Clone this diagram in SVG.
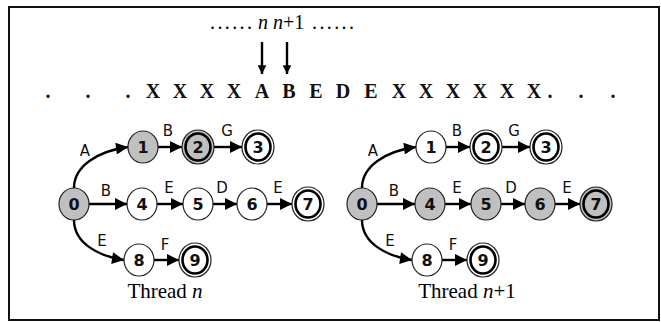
<svg xmlns="http://www.w3.org/2000/svg" width="661" height="322" viewBox="0 0 661 322">
<style>
.frame{fill:none;stroke:#111;stroke-width:2}
.tm{font-family:"Liberation Serif","Times New Roman",serif;fill:#000}
.seq{font-family:"Liberation Serif","Times New Roman",serif;font-weight:bold;font-size:20px;fill:#111}
.nd{stroke:#222;stroke-width:1.2}
.g{fill:#c0c0c0}
.w{fill:#fff}
.ring{fill:none;stroke:#000;stroke-width:2.6}
.num{font-family:"DejaVu Sans",Verdana,sans-serif;font-weight:bold;font-size:16px;text-anchor:middle;fill:#111}
.lbl{font-family:"DejaVu Sans",Verdana,sans-serif;font-size:15px;text-anchor:middle;fill:#111}
.e{fill:none;stroke:#000;stroke-width:2.4;marker-end:url(#ah)}
.pt{fill:none;stroke:#000;stroke-width:2.4;marker-end:url(#ah2)}
</style>
<defs>
<marker id="ah" viewBox="0 0 10 10" refX="10" refY="5" markerWidth="5.4" markerHeight="5" markerUnits="strokeWidth" orient="auto">
<path d="M0,0 L10,5 L0,10 z" fill="#000"/>
</marker>
<marker id="ah2" viewBox="0 0 10 10" refX="10" refY="5" markerWidth="3.6" markerHeight="3.6" markerUnits="strokeWidth" orient="auto">
<path d="M0,0 L10,5 L0,10 z" fill="#000"/>
</marker>
</defs>
<rect class="frame" x="9" y="7" width="650" height="313"/>
<g id="header">
<text class="tm" font-size="20" y="29"><tspan x="210" textLength="42" lengthAdjust="spacing">......</tspan><tspan x="258" font-style="italic">n</tspan><tspan x="273" font-style="italic">n</tspan><tspan>+1</tspan><tspan x="312" textLength="42" lengthAdjust="spacing">......</tspan></text>
<path class="pt" d="M262,42 V74"/>
<path class="pt" d="M287,42 V74"/>
<text class="seq" y="98" text-anchor="middle" x="48 88 128 153 180 207 234 262 289 316 343 371 399 426 453 480 507 534 550 581 613">...XXXXABEDEXXXXXX...</text>
</g>
<g id="connectors">
<path class="e" d="M74,188 C74,166 98,151 128,147"/>
<path class="e" d="M74,220 C74,243 98,256 124,260"/>
<path class="e" d="M89,204 H127"/>
<path class="e" d="M158,147 H182"/>
<path class="e" d="M214,147 H242"/>
<path class="e" d="M157,204 H183"/>
<path class="e" d="M213,204 H237"/>
<path class="e" d="M267,204 H292"/>
<path class="e" d="M154,260 H179"/>
<path class="e" d="M362,188 C362,166 386,151 416,147"/>
<path class="e" d="M362,220 C362,243 386,256 412,260"/>
<path class="e" d="M377,204 H415"/>
<path class="e" d="M446,147 H470"/>
<path class="e" d="M502,147 H530"/>
<path class="e" d="M445,204 H471"/>
<path class="e" d="M501,204 H525"/>
<path class="e" d="M555,204 H580"/>
<path class="e" d="M442,260 H467"/>
<text class="lbl" x="85" y="156">A</text>
<text class="lbl" x="106" y="196">B</text>
<text class="lbl" x="102" y="246">E</text>
<text class="lbl" x="168" y="136">B</text>
<text class="lbl" x="227" y="136">G</text>
<text class="lbl" x="169" y="193">E</text>
<text class="lbl" x="222" y="193">D</text>
<text class="lbl" x="278" y="193">E</text>
<text class="lbl" x="165" y="250">F</text>
<text class="lbl" x="373" y="156">A</text>
<text class="lbl" x="394" y="196">B</text>
<text class="lbl" x="390" y="246">E</text>
<text class="lbl" x="457" y="136">B</text>
<text class="lbl" x="514" y="136">G</text>
<text class="lbl" x="457" y="193">E</text>
<text class="lbl" x="511" y="193">D</text>
<text class="lbl" x="567" y="193">E</text>
<text class="lbl" x="453" y="250">F</text>
</g>
<g id="L0"><ellipse class="nd g" cx="74" cy="204" rx="15" ry="16"/><text class="num" x="74" y="210">0</text></g>
<g id="L1"><ellipse class="nd g" cx="143" cy="147" rx="15" ry="16"/><text class="num" x="143" y="153">1</text></g>
<g id="L2"><ellipse class="nd g" cx="198" cy="147" rx="16" ry="17"/><ellipse class="ring" cx="198" cy="147" rx="12.5" ry="13.5"/><text class="num" x="198" y="153">2</text></g>
<g id="L3"><ellipse class="nd w" cx="258" cy="147" rx="16" ry="17"/><ellipse class="ring" cx="258" cy="147" rx="12.5" ry="13.5"/><text class="num" x="258" y="153">3</text></g>
<g id="L4"><ellipse class="nd w" cx="142" cy="204" rx="15" ry="16"/><text class="num" x="142" y="210">4</text></g>
<g id="L5"><ellipse class="nd w" cx="198" cy="204" rx="15" ry="16"/><text class="num" x="198" y="210">5</text></g>
<g id="L6"><ellipse class="nd w" cx="252" cy="204" rx="15" ry="16"/><text class="num" x="252" y="210">6</text></g>
<g id="L7"><ellipse class="nd w" cx="308" cy="204" rx="16" ry="17"/><ellipse class="ring" cx="308" cy="204" rx="12.5" ry="13.5"/><text class="num" x="308" y="210">7</text></g>
<g id="L8"><ellipse class="nd w" cx="139" cy="260" rx="15" ry="16"/><text class="num" x="139" y="266">8</text></g>
<g id="L9"><ellipse class="nd w" cx="195" cy="260" rx="16" ry="17"/><ellipse class="ring" cx="195" cy="260" rx="12.5" ry="13.5"/><text class="num" x="195" y="266">9</text></g>
<g id="R0"><ellipse class="nd g" cx="362" cy="204" rx="15" ry="16"/><text class="num" x="362" y="210">0</text></g>
<g id="R1"><ellipse class="nd w" cx="431" cy="147" rx="15" ry="16"/><text class="num" x="431" y="153">1</text></g>
<g id="R2"><ellipse class="nd w" cx="486" cy="147" rx="16" ry="17"/><ellipse class="ring" cx="486" cy="147" rx="12.5" ry="13.5"/><text class="num" x="486" y="153">2</text></g>
<g id="R3"><ellipse class="nd w" cx="546" cy="147" rx="16" ry="17"/><ellipse class="ring" cx="546" cy="147" rx="12.5" ry="13.5"/><text class="num" x="546" y="153">3</text></g>
<g id="R4"><ellipse class="nd g" cx="430" cy="204" rx="15" ry="16"/><text class="num" x="430" y="210">4</text></g>
<g id="R5"><ellipse class="nd g" cx="486" cy="204" rx="15" ry="16"/><text class="num" x="486" y="210">5</text></g>
<g id="R6"><ellipse class="nd g" cx="540" cy="204" rx="15" ry="16"/><text class="num" x="540" y="210">6</text></g>
<g id="R7"><ellipse class="nd g" cx="596" cy="204" rx="16" ry="17"/><ellipse class="ring" cx="596" cy="204" rx="12.5" ry="13.5"/><text class="num" x="596" y="210">7</text></g>
<g id="R8"><ellipse class="nd w" cx="427" cy="260" rx="15" ry="16"/><text class="num" x="427" y="266">8</text></g>
<g id="R9"><ellipse class="nd w" cx="483" cy="260" rx="16" ry="17"/><ellipse class="ring" cx="483" cy="260" rx="12.5" ry="13.5"/><text class="num" x="483" y="266">9</text></g>
<g id="captions">
<text class="tm" font-size="21" x="165" y="298" text-anchor="middle">Thread <tspan font-style="italic">n</tspan></text>
<text class="tm" font-size="21" x="467" y="298" text-anchor="middle">Thread <tspan font-style="italic">n</tspan>+1</text>
</g>
</svg>
